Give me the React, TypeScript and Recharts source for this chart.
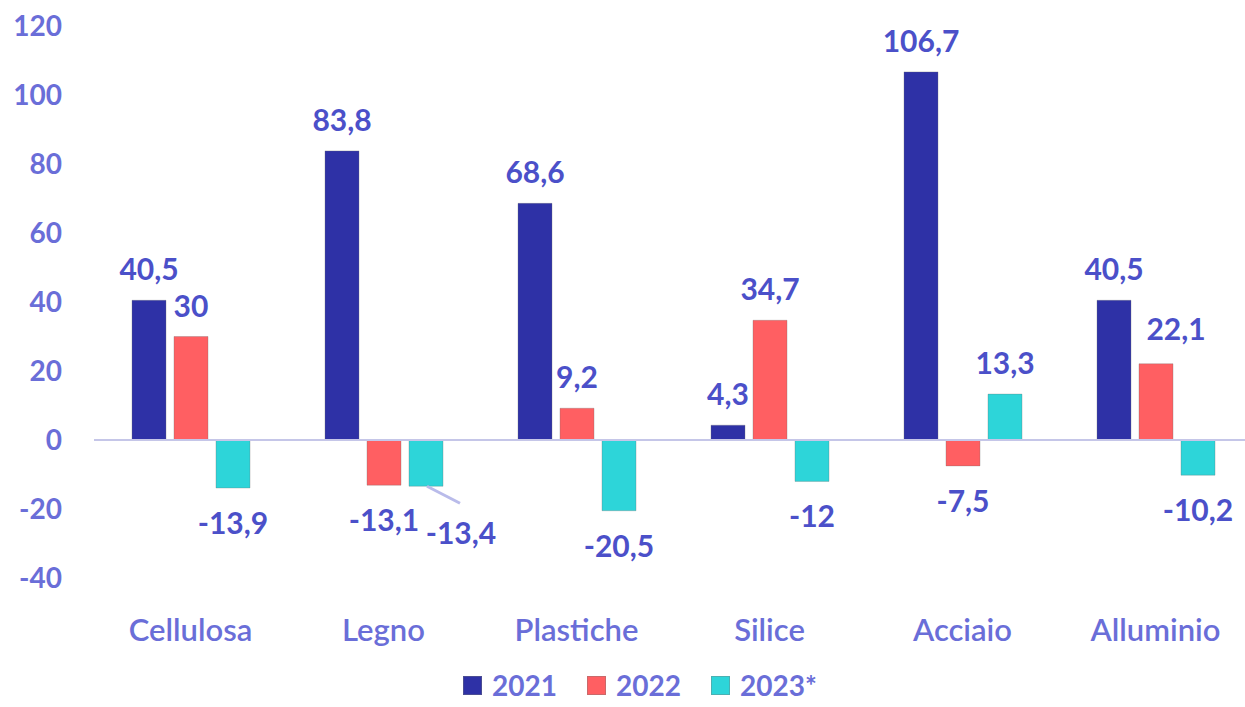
import React from "react";
import { Bar, BarChart, LabelList, Legend, ReferenceLine, XAxis, YAxis } from "recharts";

const categories = ["Cellulosa", "Legno", "Plastiche", "Silice", "Acciaio", "Alluminio"];
const values2021 = [40.5, 83.8, 68.6, 4.3, 106.7, 40.5];
const values2022 = [30, -13.1, 9.2, 34.7, -7.5, 22.1];
const values2023 = [-13.9, -13.4, -20.5, -12, 13.3, -10.2];
const yTicks = [-40, -20, 0, 20, 40, 60, 80, 100, 120];

const SERIES = [
  { key: "y2021", name: "2021", color: "#2e31a6" },
  { key: "y2022", name: "2022", color: "#ff5f62" },
  { key: "y2023", name: "2023*", color: "#2dd5d9" },
];

const FONT = "Lato, 'Open Sans', sans-serif";
const LABEL_COLOR = "#4b50c9";
const TICK_COLOR = "#6a6ed8";

const data = categories.map((c, i) => ({
  category: c,
  y2021: values2021[i],
  y2022: values2022[i],
  y2023: values2023[i],
}));

const fmt = (v: number) => String(v).replace(".", ",");

// label above positive bars, below negative ones; a couple of crowded ones are nudged aside
function makeLabel(seriesKey: string) {
  return (props: any) => {
    const { x, y, width, height, value, index } = props;
    const v = Number(value);
    const top = Math.min(y, y + height);
    const bottom = Math.max(y, y + height);
    const cx = x + width / 2;
    const textProps = {
      fill: LABEL_COLOR,
      fontSize: 30,
      fontWeight: 700,
      fontFamily: FONT,
      textAnchor: "middle" as const,
    };
    if (v >= 0) {
      const nudge = seriesKey === "y2022" && index === 5;
      return (
        <text x={cx + (nudge ? 20 : 0)} y={top - (nudge ? 24 : 20)} {...textProps}>
          {fmt(v)}
        </text>
      );
    }
    if (seriesKey === "y2023" && index === 1) {
      return (
        <g>
          <line x1={cx + 1} y1={bottom} x2={cx + 34} y2={bottom + 17} stroke="#b9bbea" strokeWidth={3} />
          <text x={cx + 35} y={bottom + 58} {...textProps}>
            {fmt(v)}
          </text>
        </g>
      );
    }
    return (
      <text x={cx} y={bottom + 46} {...textProps}>
        {fmt(v)}
      </text>
    );
  };
}

function LegendContent({ payload }: any) {
  return (
    <div style={{ display: "flex", alignItems: "center", fontFamily: FONT }}>
      {(payload || []).map((p: any) => (
        <div key={p.value} style={{ display: "flex", alignItems: "center", marginRight: 30 }}>
          <span
            style={{
              display: "inline-block",
              width: 19,
              height: 19,
              background: p.color,
              border: "1px solid rgba(120,120,120,0.4)",
              boxSizing: "border-box",
              marginRight: 10,
            }}
          />
          <span style={{ color: TICK_COLOR, fontSize: 28, fontWeight: 700, lineHeight: "28px" }}>{p.value}</span>
        </div>
      ))}
    </div>
  );
}

export default function App() {
  return (
    <div style={{ position: "absolute", left: 0, top: 0, width: 1245, height: 707, overflow: "hidden", background: "#fff" }}>
      <BarChart
        width={1252}
        height={707}
        data={data}
        margin={{ top: 26, right: 0, bottom: 0, left: 0 }}
        barSize={34}
        barGap={8}
      >
        <XAxis
          dataKey="category"
          height={129}
          axisLine={false}
          tickLine={false}
          tickSize={0}
          tickMargin={41}
          interval={0}
          tick={{ fill: TICK_COLOR, fontSize: 31, fontWeight: 600, fontFamily: FONT }}
        />
        <YAxis
          width={94}
          domain={[-40, 120]}
          ticks={yTicks}
          axisLine={false}
          tickLine={false}
          tickSize={0}
          tickMargin={32}
          tick={{ fill: TICK_COLOR, fontSize: 28, fontWeight: 700, fontFamily: FONT }}
        />
        <ReferenceLine y={0} stroke="#c5c6e8" strokeWidth={2} />
        <Legend
          layout="horizontal"
          verticalAlign="middle"
          align="center"
          wrapperStyle={{ top: 671, left: 463, width: 500 }}
          content={<LegendContent />}
        />
        {SERIES.map((s) => (
          <Bar
            key={s.key}
            dataKey={s.key}
            name={s.name}
            fill={s.color}
            stroke="rgba(110,110,110,0.45)"
            strokeWidth={0.7}
            isAnimationActive={false}
          >
            <LabelList dataKey={s.key} content={makeLabel(s.key)} />
          </Bar>
        ))}
      </BarChart>
    </div>
  );
}
